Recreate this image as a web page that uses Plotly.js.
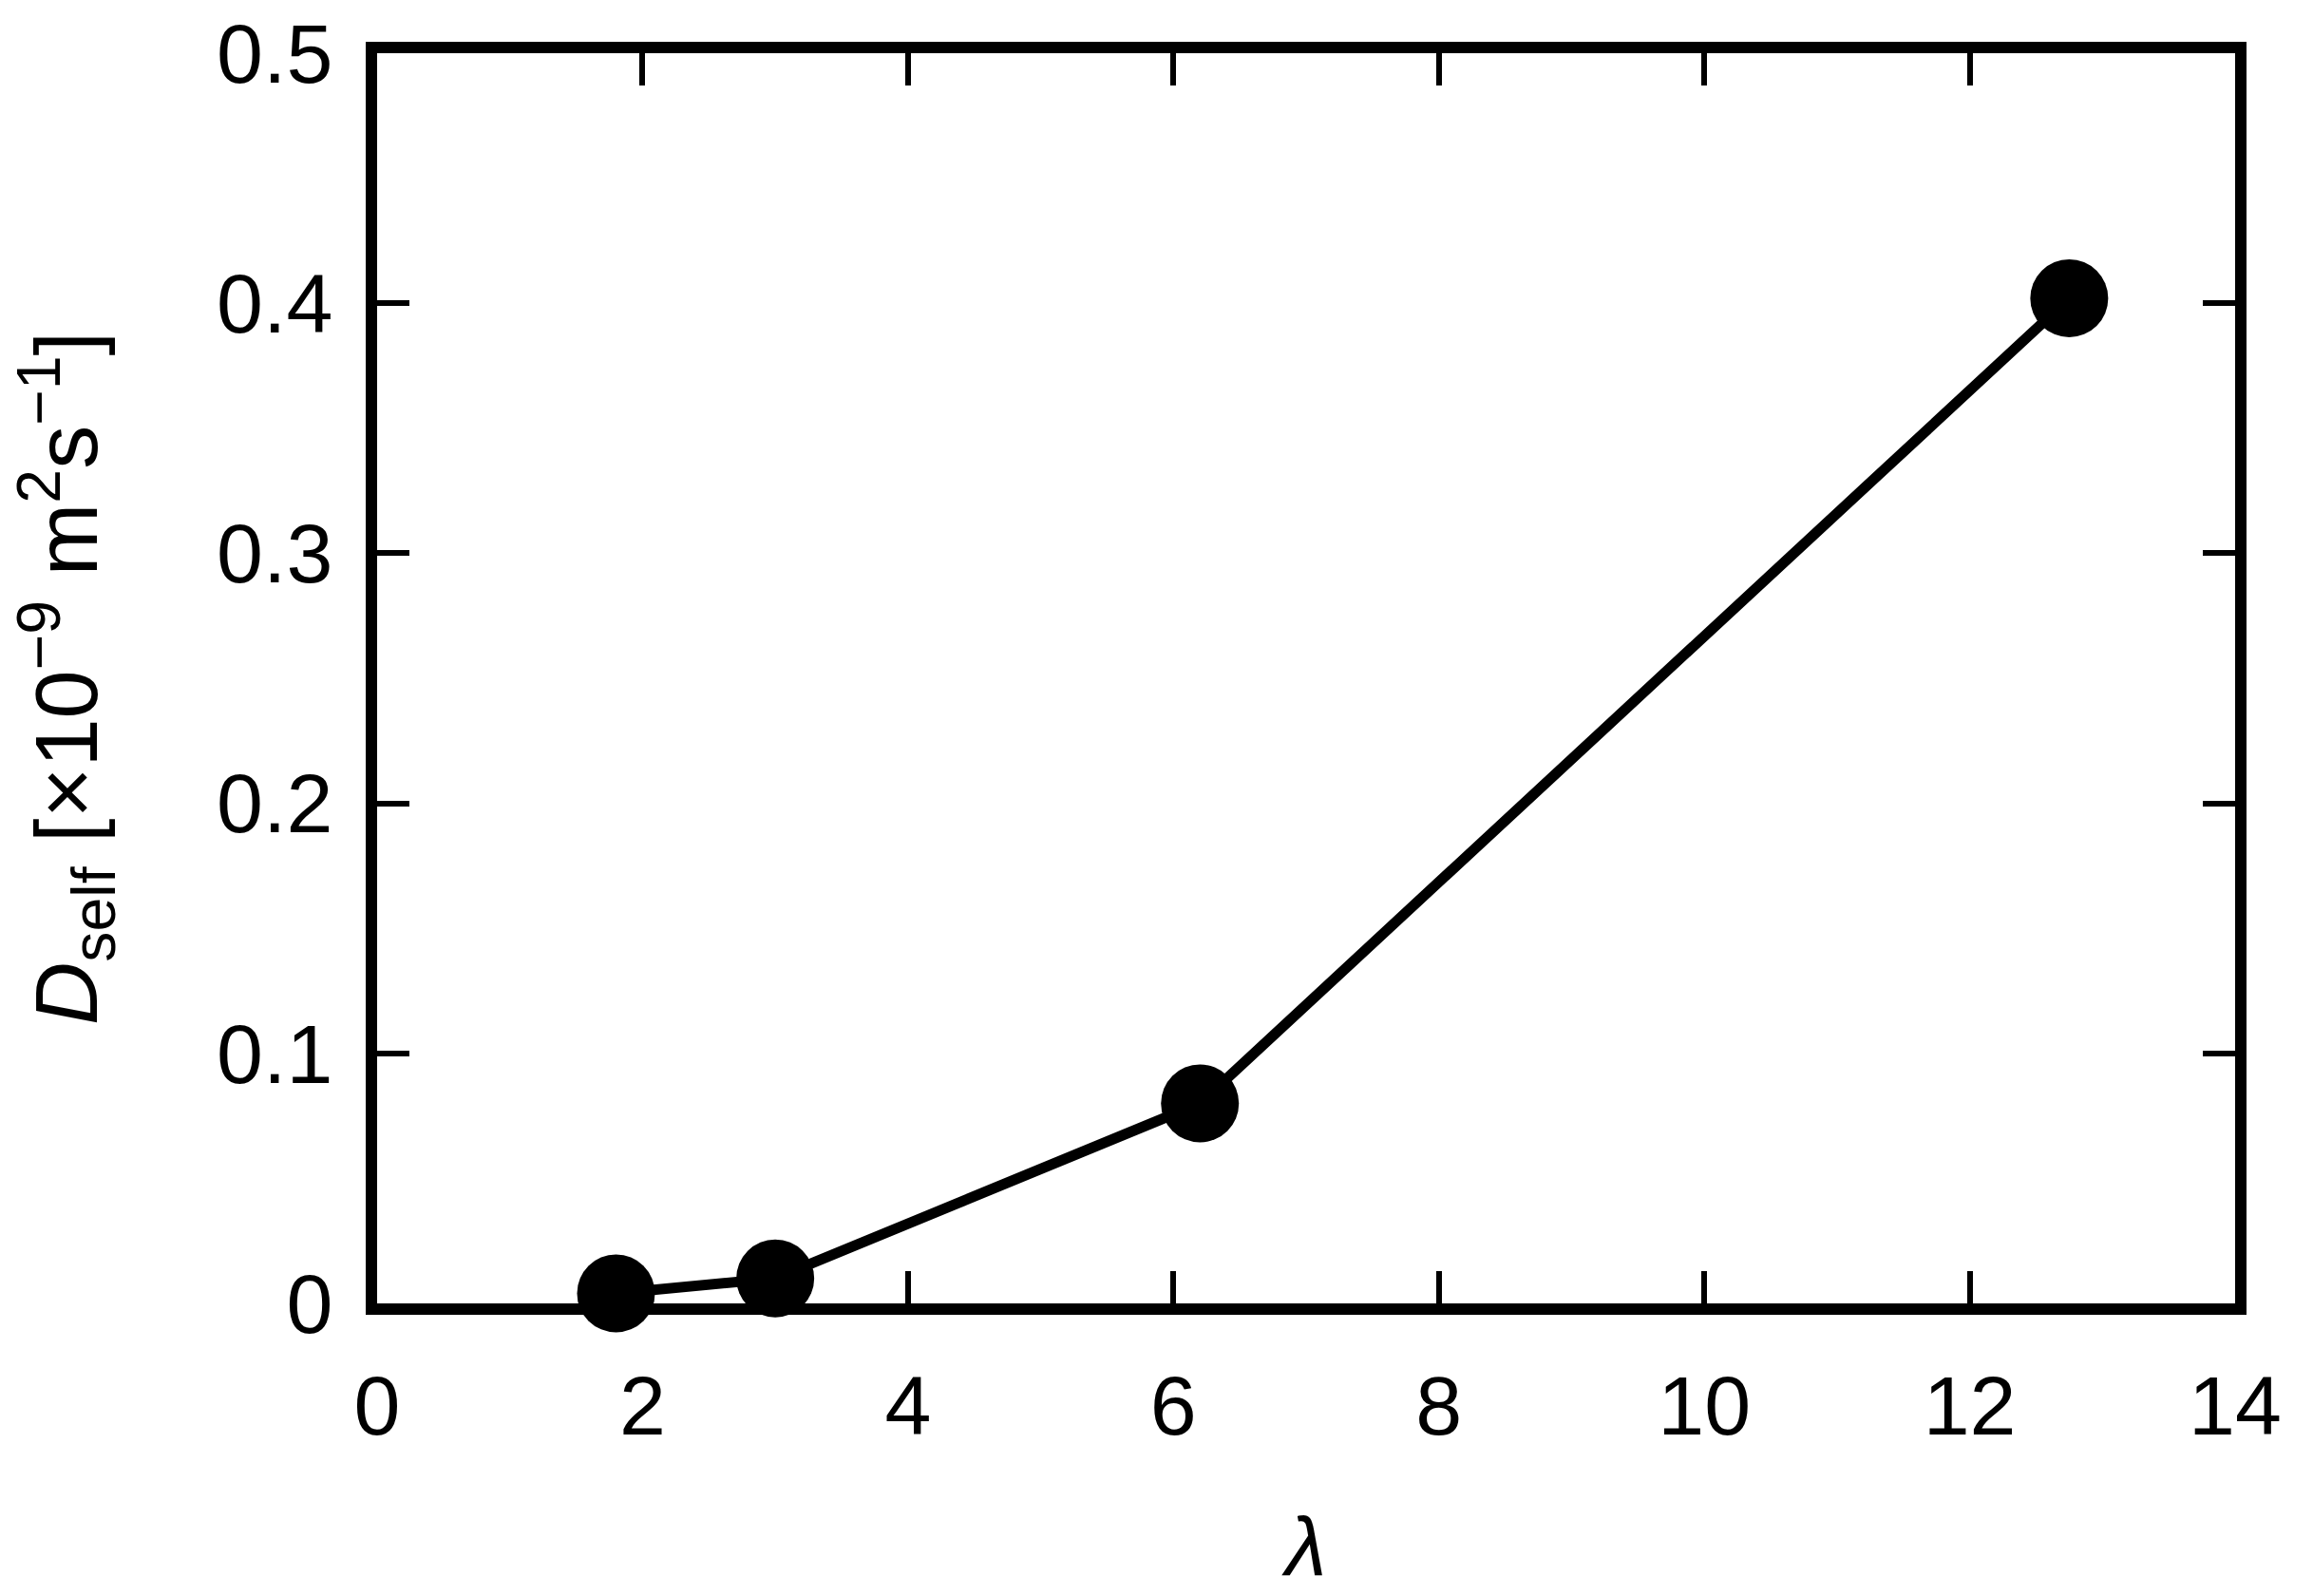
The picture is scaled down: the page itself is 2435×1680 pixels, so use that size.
<!DOCTYPE html>
<html>
<head>
<meta charset="utf-8">
<script src="https://cdn.plot.ly/plotly-3.0.1.min.js"></script>
<style>
  html, body { margin: 0; padding: 0; background: #fff; }
  #chart { width: 2435px; height: 1680px; }
</style>
</head>
<body>
<div id="chart"></div>
<script>
var lambdaVals = [1.8, 3.0, 6.2, 12.75];
var dSelf = [0.004, 0.010, 0.080, 0.402];

var xTicks = [0, 2, 4, 6, 8, 10, 12, 14];
var yTicks = [0, 0.1, 0.2, 0.3, 0.4, 0.5];

var fontFam = 'Liberation Sans, Arial, sans-serif';

var trace = {
  x: lambdaVals,
  y: dSelf,
  type: 'scatter',
  mode: 'lines+markers',
  line: { color: '#000', width: 11 },
  marker: { color: '#000', size: 82 },
  cliponaxis: false,
  hoverinfo: 'none'
};

var axisCommon = {
  showgrid: false,
  zeroline: false,
  showline: true,
  linecolor: '#000',
  linewidth: 12,
  mirror: 'ticks',
  ticks: 'inside',
  ticklen: 34,
  tickwidth: 6,
  tickcolor: '#000',
  tickfont: { family: fontFam, size: 88, color: '#000' },
  automargin: false
};

var layout = {
  width: 2435,
  height: 1680,
  margin: { l: 397, r: 82, t: 56, b: 308 },
  paper_bgcolor: '#fff',
  plot_bgcolor: '#fff',
  showlegend: false,
  font: { family: fontFam, size: 88, color: '#000' },
  xaxis: Object.assign({}, axisCommon, {
    range: [0, 14],
    tickvals: xTicks,
    ticktext: xTicks.map(String),
    ticklabelstandoff: 20,
    title: { text: '<i>λ</i>', font: { family: fontFam, size: 88, color: '#000' }, standoff: 74 }
  }),
  yaxis: Object.assign({}, axisCommon, {
    range: [0, 0.5],
    tickvals: yTicks,
    ticktext: yTicks.map(function (v) { return v === 0 ? '0' : v.toFixed(1); }),
    ticklabelstandoff: 17,
    title: {
      text: '<i>D</i><sub>self</sub> [×10<sup>−9</sup> m<sup>2</sup>s<sup>−1</sup>]',
      font: { family: fontFam, size: 92, color: '#000' },
      standoff: 100
    }
  })
};

Plotly.newPlot('chart', [trace], layout, { displayModeBar: false, staticPlot: true });
</script>
</body>
</html>
